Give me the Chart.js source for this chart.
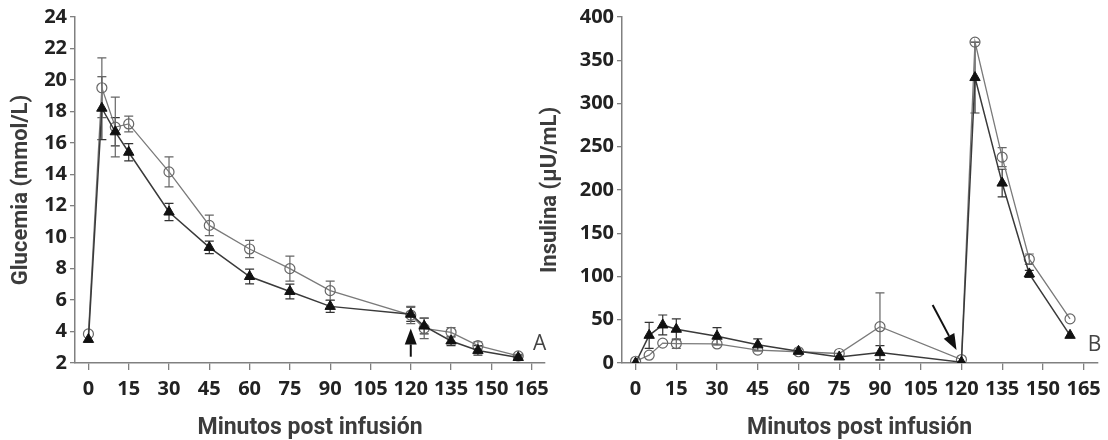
<!DOCTYPE html>
<html>
<head>
<meta charset="utf-8">
<script src="https://cdn.jsdelivr.net/npm/chart.js@4.4.1/dist/chart.umd.min.js"></script>
<style>
  body { margin: 0; background: #fff; }
  #wrap { position: relative; width: 1108px; height: 440px; }
  canvas { position: absolute; top: 0; }
</style>
</head>
<body>
<div id="wrap">
  <canvas id="graph_glucemia" width="556" height="440" style="left:0px"></canvas>
  <canvas id="graph_insulina" width="572" height="440" style="left:536px"></canvas>
</div>
<script>
// Dados

const minutos = [0, 5, 10, 15, 30, 45, 60, 75, 90, 120, 125, 135, 145, 160];
const ticksMinutos = [0, 15, 30, 45, 60, 75, 90, 105, 120, 135, 150, 165];

const glucemiaCirculo = [3.85, 19.5, 17.0, 17.2, 14.15, 10.75, 9.25, 8.0, 6.6, 5.05, 4.2, 3.95, 3.1, 2.45];
const glucemiaCirculoErro = [0, 1.9, 1.9, 0.5, 0.95, 0.65, 0.55, 0.8, 0.6, 0.55, 0.65, 0.3, 0.25, 0.1];
const glucemiaTriangulo = [3.5, 18.2, 16.7, 15.4, 11.6, 9.35, 7.5, 6.55, 5.6, 5.1, 4.35, 3.4, 2.8, 2.35];
const glucemiaTrianguloErro = [0, 2.0, 0.9, 0.55, 0.55, 0.4, 0.47, 0.47, 0.38, 0.45, 0.5, 0.3, 0.3, 0.1];
const ticksGlucemia = [2, 4, 6, 8, 10, 12, 14, 16, 18, 20, 22, 24];

const insulinaCirculo = [2, 9, 23, 22.5, 22, 15, 13, 11, 42, 4, 371, 238, 120, 51];
const insulinaCirculoErro = [0, 0, 0, 5.5, 0, 0, 0, 0, 39, 0, 0, 11, 6, 0];
const insulinaTriangulo = [0, 32, 44, 39, 31, 21, 13.5, 7, 12, 1, 330, 208, 103, 32];
const insulinaTrianguloErro = [0, 15, 11.5, 12, 10, 7, 0, 0, 8, 0, 41, 16, 4, 0];
const ticksInsulina = [0, 50, 100, 150, 200, 250, 300, 350, 400];

const fonteTitulo = "Roboto, sans-serif";
const fonteTicks = "'Open Sans', sans-serif";

function pontos(valores) {
  return minutos.map((m, i) => ({ x: m, y: valores[i] }));
}

// Barras de erro desenhadas com as escalas do Chart.js

const barrasErro = {
  id: "barrasErro",
  beforeDatasetsDraw(chart) {
    const ctx = chart.ctx;
    const xs = chart.scales.x;
    const ys = chart.scales.y;
    chart.data.datasets.forEach((ds) => {
      if (!ds.erros) return;
      ctx.save();
      ctx.strokeStyle = ds.corErro;
      ctx.lineWidth = 1.2;
      ds.data.forEach((p, i) => {
        const e = ds.erros[i];
        if (!e) return;
        const x = xs.getPixelForValue(p.x);
        const yTop = ys.getPixelForValue(p.y + e);
        const yBot = ys.getPixelForValue(p.y - e);
        ctx.beginPath();
        ctx.moveTo(x, yTop);
        ctx.lineTo(x, yBot);
        ctx.moveTo(x - 4.5, yTop);
        ctx.lineTo(x + 4.5, yTop);
        ctx.moveTo(x - 4.5, yBot);
        ctx.lineTo(x + 4.5, yBot);
        ctx.stroke();
      });
      ctx.restore();
    });
  },
};

// Seta e letra do painel

const anotacao = {
  id: "anotacao",
  afterDatasetsDraw(chart, args, opts) {
    const ctx = chart.ctx;
    const xs = chart.scales.x;
    const ys = chart.scales.y;
    const s = opts.seta;
    const x0 = xs.getPixelForValue(s[0]);
    const y0 = ys.getPixelForValue(s[1]);
    const x1 = xs.getPixelForValue(s[2]);
    const y1 = ys.getPixelForValue(s[3]);
    const ang = Math.atan2(y1 - y0, x1 - x0);
    const comp = 16;
    const larg = 6;
    const bx = x1 - comp * Math.cos(ang);
    const by = y1 - comp * Math.sin(ang);
    ctx.save();
    ctx.strokeStyle = "#111";
    ctx.fillStyle = "#111";
    ctx.lineWidth = 2;
    ctx.beginPath();
    ctx.moveTo(x0, y0);
    ctx.lineTo(bx, by);
    ctx.stroke();
    ctx.beginPath();
    ctx.moveTo(x1, y1);
    ctx.lineTo(bx + larg * Math.sin(ang), by - larg * Math.cos(ang));
    ctx.lineTo(bx - larg * Math.sin(ang), by + larg * Math.cos(ang));
    ctx.closePath();
    ctx.fill();

    ctx.font = "21px " + fonteTicks;
    ctx.fillStyle = "#444";
    ctx.textAlign = "center";
    ctx.textBaseline = "middle";
    ctx.fillText(opts.letra, xs.getPixelForValue(opts.posLetra[0]), ys.getPixelForValue(opts.posLetra[1]));
    ctx.restore();
  },
};

function criarGrafico(id, cfg) {
  const eixoCor = "#808080";
  return new Chart(document.getElementById(id), {
    type: "scatter",
    data: {
      datasets: [
        {
          label: "Triângulo",
          data: pontos(cfg.triangulo),
          erros: cfg.trianguloErro,
          corErro: "#333",
          showLine: true,
          borderColor: "#3a3a3a",
          borderWidth: 1.5,
          pointStyle: "triangle",
          pointRadius: 6,
          pointBackgroundColor: "#111",
          pointBorderColor: "#111",
          pointBorderWidth: 1,
        },
        {
          label: "Círculo",
          data: pontos(cfg.circulo),
          erros: cfg.circuloErro,
          corErro: "#666",
          showLine: true,
          borderColor: "#7a7a7a",
          borderWidth: 1.3,
          pointStyle: "circle",
          pointRadius: 5,
          pointBackgroundColor: "rgba(255,255,255,0)",
          pointBorderColor: "#666",
          pointBorderWidth: 1.2,
        },
      ],
    },
    options: {
      responsive: false,
      animation: false,
      layout: { padding: { top: 17, right: cfg.padDir, left: 0, bottom: 0 } },
      scales: {
        x: {
          type: "linear",
          min: -5,
          max: 170,
          afterBuildTicks: (s) => { s.ticks = ticksMinutos.map((v) => ({ value: v })); },
          afterFit: (s) => { s.height = 77; },
          grid: { drawOnChartArea: false, drawTicks: true, tickLength: 7, color: eixoCor, lineWidth: 1.3 },
          border: { display: true, color: eixoCor, width: 1.5 },
          ticks: { color: "#222", padding: 7, maxRotation: 0, autoSkip: false, font: { family: fonteTicks, size: 20, weight: "bold" } },
          title: {
            display: true,
            text: "Minutos post infusión",
            color: "#3c3c3c",
            padding: { top: 0, bottom: 0 },
            font: { family: fonteTitulo, size: 23, weight: "bold", lineHeight: 1 },
          },
        },
        y: {
          type: "linear",
          min: cfg.yMin,
          max: cfg.yMax,
          afterBuildTicks: (s) => { s.ticks = cfg.ticksY.map((v) => ({ value: v })); },
          afterFit: (s) => { s.width = cfg.largY; },
          grid: { drawOnChartArea: false, drawTicks: true, tickLength: 5, color: eixoCor, lineWidth: 1.3 },
          border: { display: true, color: eixoCor, width: 1.5 },
          ticks: { color: "#222", padding: 3, autoSkip: false, font: { family: fonteTicks, size: 20, weight: "bold" } },
          title: {
            display: true,
            text: cfg.tituloY,
            color: "#3c3c3c",
            padding: { top: cfg.padTitulo, bottom: 0 },
            font: { family: fonteTitulo, size: 22, weight: "bold", lineHeight: 1 },
          },
        },
      },
      plugins: {
        legend: { display: false },
        tooltip: { enabled: false },
        anotacao: { seta: cfg.seta, letra: cfg.letra, posLetra: cfg.posLetra },
      },
    },
    plugins: [barrasErro, anotacao],
  });
}

// Painel A - Glucemia
criarGrafico("graph_glucemia", {
  circulo: glucemiaCirculo,
  circuloErro: glucemiaCirculoErro,
  triangulo: glucemiaTriangulo,
  trianguloErro: glucemiaTrianguloErro,
  ticksY: ticksGlucemia,
  yMin: 2,
  yMax: 24,
  largY: 75,
  padDir: 3,
  padTitulo: 10,
  tituloY: "Glucemia (mmol/L)",
  seta: [120, 2.4, 120, 4.2],
  letra: "A",
  posLetra: [168, 3.2],
});

// Painel B - Insulina
criarGrafico("graph_insulina", {
  circulo: insulinaCirculo,
  circuloErro: insulinaCirculoErro,
  triangulo: insulinaTriangulo,
  trianguloErro: insulinaTrianguloErro,
  ticksY: ticksInsulina,
  yMin: 0,
  yMax: 400,
  largY: 86,
  padDir: 8,
  padTitulo: 3,
  tituloY: "Insulina (µU/mL)",
  seta: [109.4, 67, 118.2, 15],
  letra: "B",
  posLetra: [169, 21],
});
</script>
</body>
</html>
